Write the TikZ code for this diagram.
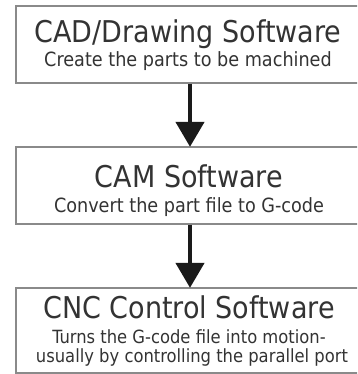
\documentclass[tikz,border=0pt]{standalone}
\usepackage{fontspec}
\setmainfont{DejaVu Sans Condensed}
\usetikzlibrary{arrows.meta}
\definecolor{boxgray}{HTML}{8A8A8A}
\definecolor{txt}{HTML}{333333}
\definecolor{arr}{HTML}{1A1A1A}
\tikzset{
  stagebox/.style={draw=boxgray, line width=1.3pt, rectangle, minimum width=348pt, inner sep=0pt},
  ttl/.style={anchor=base, text=txt, font=\fontsize{30}{34}\selectfont, inner sep=0pt},
  sub/.style={anchor=base, text=txt, font=\fontsize{19.6}{24}\selectfont, inner sep=0pt},
  subsm/.style={anchor=base, text=txt, font=\fontsize{18.2}{19}\selectfont, inner sep=0pt, align=center},
  flow/.style={draw=arr, line width=4.5pt, -{Triangle[width=28pt,length=25pt]}, shorten >=-0.5pt}
}
\begin{document}
\begin{tikzpicture}[x=1pt,y=-1pt]
\useasboundingbox (0,0) rectangle (357,374);
\clip (0,0) rectangle (357,374);
\node[stagebox, minimum height=77pt] (b1) at (190,44.5) {};
\node[stagebox, minimum height=77pt] (b2) at (190,185.5) {};
\node[stagebox, minimum height=85pt] (b3) at (190,330.5) {};
\node[ttl] (t1) at (188,43) {CAD/Drawing Software};
\node[sub] (s1) at (188,67) {Create the parts to be machined};
\node[ttl] (t2) at (189,187) {CAM Software};
\node[sub] (s2) at (189,212) {Convert the part file to G-code};
\node[ttl] (t3) at (189,318) {CNC Control Software};
\node[subsm] (s3a) at (189,343) {Turns the G-code file into motion-};
\node[subsm] (s3b) at (192,362) {usually by controlling the parallel port};
\draw[flow] (b1.south) -- (b2.north);
\draw[flow] (b2.south) -- (b3.north);
\end{tikzpicture}
\end{document}
